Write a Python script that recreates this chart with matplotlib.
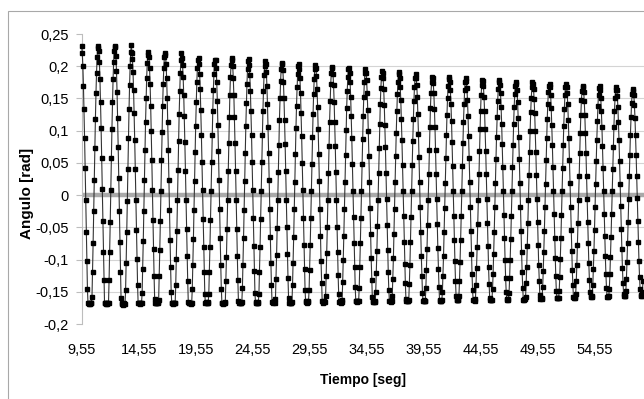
import numpy as np
import matplotlib
matplotlib.use('Agg')

import matplotlib.pyplot as plt
from matplotlib.patches import Rectangle

# sampling of the logger: first sample and step, in seconds
t0 = 9.55
dt = 0.05

# angle readings [rad], one row per swing
angulo = [
    0.231, 0.220, 0.200, 0.170, 0.133, 0.089, 0.042, -0.008, -0.057, -0.103, -0.145, -0.168, -0.169, -0.168, -0.168, -0.169, -0.168, -0.167, -0.158, -0.119, -0.074, -0.025, 0.024, 0.073, 0.118, 0.158, 0.190, 0.214, 0.228, 0.232,
    0.224, 0.207, 0.180, 0.145, 0.104, 0.058, 0.009, -0.040, -0.088, -0.131, -0.167, -0.168, -0.169, -0.168, -0.168, -0.169, -0.168, -0.167, -0.132, -0.089, -0.042, 0.008, 0.057, 0.103, 0.145, 0.180, 0.206, 0.224, 0.231,
    0.230, 0.216, 0.193, 0.160, 0.120, 0.074, 0.026, -0.024, -0.073, -0.119, -0.159, -0.169, -0.168, -0.169, -0.170, -0.169, -0.168, -0.169, -0.147, -0.105, -0.058, -0.009, 0.041, 0.089, 0.133, 0.171, 0.201, 0.222, 0.233,
    0.221, 0.211, 0.191, 0.163, 0.127, 0.085, 0.040, -0.007, -0.054, -0.099, -0.139, -0.168, -0.167, -0.168, -0.169, -0.168, -0.168, -0.167, -0.152, -0.114, -0.071, -0.024, 0.023, 0.070, 0.113, 0.151, 0.182, 0.205, 0.218, 0.222,
    0.214, 0.198, 0.172, 0.139, 0.099, 0.055, 0.008, -0.039, -0.084, -0.126, -0.161, -0.167, -0.168, -0.167, -0.168, -0.167, -0.166, -0.162, -0.126, -0.085, -0.040, 0.007, 0.054, 0.098, 0.138, 0.172, 0.197, 0.214, 0.221,
    0.218, 0.204, 0.182, 0.151, 0.113, 0.070, 0.024, -0.023, -0.069, -0.112, -0.150, -0.168, -0.167, -0.168, -0.169, -0.168, -0.167, -0.168, -0.139, -0.099, -0.055, -0.008, 0.039, 0.084, 0.126, 0.161, 0.190, 0.210, 0.220,
    0.212, 0.202, 0.183, 0.156, 0.122, 0.082, 0.038, -0.007, -0.052, -0.095, -0.133, -0.166, -0.168, -0.167, -0.168, -0.169, -0.168, -0.167, -0.146, -0.109, -0.068, -0.023, 0.022, 0.067, 0.108, 0.145, 0.175, 0.197, 0.210, 0.213,
    0.204, 0.188, 0.164, 0.132, 0.094, 0.052, 0.008, -0.037, -0.080, -0.119, -0.153, -0.167, -0.166, -0.167, -0.168, -0.167, -0.166, -0.154, -0.120, -0.081, -0.038, 0.007, 0.051, 0.094, 0.131, 0.163, 0.188, 0.203, 0.210,
    0.210, 0.197, 0.175, 0.146, 0.109, 0.068, 0.023, -0.022, -0.067, -0.108, -0.145, -0.167, -0.168, -0.169, -0.168, -0.167, -0.168, -0.166, -0.134, -0.096, -0.053, -0.008, 0.037, 0.081, 0.121, 0.156, 0.183, 0.202, 0.212,
    0.210, 0.200, 0.182, 0.155, 0.121, 0.081, 0.038, -0.007, -0.052, -0.094, -0.132, -0.164, -0.167, -0.166, -0.167, -0.168, -0.167, -0.166, -0.144, -0.108, -0.067, -0.023, 0.022, 0.066, 0.107, 0.143, 0.173, 0.195, 0.208, 0.211,
    0.202, 0.186, 0.162, 0.131, 0.094, 0.052, 0.008, -0.036, -0.079, -0.118, -0.152, -0.167, -0.166, -0.167, -0.168, -0.167, -0.166, -0.153, -0.119, -0.080, -0.037, 0.007, 0.051, 0.093, 0.130, 0.162, 0.186, 0.201, 0.208,
    0.203, 0.191, 0.170, 0.141, 0.106, 0.066, 0.023, -0.022, -0.065, -0.105, -0.140, -0.166, -0.167, -0.166, -0.165, -0.166, -0.167, -0.161, -0.130, -0.093, -0.051, -0.008, 0.036, 0.078, 0.117, 0.150, 0.177, 0.195, 0.205,
    0.203, 0.194, 0.176, 0.150, 0.117, 0.079, 0.037, -0.007, -0.050, -0.091, -0.128, -0.159, -0.167, -0.166, -0.167, -0.168, -0.167, -0.166, -0.139, -0.105, -0.065, -0.022, 0.021, 0.064, 0.104, 0.139, 0.167, 0.188, 0.201, 0.204,
    0.196, 0.181, 0.158, 0.127, 0.091, 0.050, 0.008, -0.035, -0.077, -0.115, -0.148, -0.166, -0.165, -0.166, -0.167, -0.166, -0.165, -0.148, -0.116, -0.078, -0.036, 0.007, 0.049, 0.090, 0.126, 0.157, 0.180, 0.196, 0.202,
    0.197, 0.185, 0.165, 0.137, 0.102, 0.064, 0.022, -0.021, -0.063, -0.102, -0.136, -0.164, -0.166, -0.167, -0.166, -0.165, -0.166, -0.156, -0.126, -0.090, -0.050, -0.008, 0.035, 0.076, 0.114, 0.146, 0.172, 0.190, 0.199,
    0.197, 0.188, 0.171, 0.145, 0.113, 0.076, 0.036, -0.007, -0.049, -0.088, -0.124, -0.154, -0.166, -0.165, -0.166, -0.167, -0.166, -0.163, -0.135, -0.101, -0.063, -0.022, 0.021, 0.062, 0.101, 0.135, 0.162, 0.183, 0.195, 0.198,
    0.190, 0.175, 0.153, 0.123, 0.088, 0.049, 0.007, -0.034, -0.075, -0.111, -0.143, -0.165, -0.164, -0.165, -0.166, -0.165, -0.165, -0.144, -0.112, -0.075, -0.035, 0.007, 0.048, 0.087, 0.123, 0.152, 0.175, 0.190, 0.196,
    0.190, 0.178, 0.159, 0.132, 0.099, 0.061, 0.021, -0.020, -0.061, -0.098, -0.131, -0.158, -0.166, -0.165, -0.166, -0.165, -0.166, -0.151, -0.121, -0.087, -0.048, -0.007, 0.034, 0.073, 0.110, 0.141, 0.166, 0.183, 0.192,
    0.190, 0.181, 0.164, 0.140, 0.109, 0.074, 0.034, -0.006, -0.047, -0.085, -0.120, -0.148, -0.165, -0.164, -0.165, -0.166, -0.165, -0.157, -0.130, -0.098, -0.061, -0.021, 0.020, 0.060, 0.097, 0.130, 0.157, 0.176, 0.188, 0.191,
    0.182, 0.168, 0.147, 0.118, 0.085, 0.047, 0.007, -0.033, -0.072, -0.107, -0.137, -0.161, -0.165, -0.164, -0.165, -0.165, -0.162, -0.138, -0.108, -0.072, -0.034, 0.006, 0.046, 0.084, 0.118, 0.146, 0.168, 0.182, 0.188,
    0.182, 0.171, 0.152, 0.126, 0.095, 0.059, 0.020, -0.019, -0.058, -0.094, -0.126, -0.152, -0.164, -0.163, -0.164, -0.165, -0.164, -0.144, -0.116, -0.083, -0.046, -0.007, 0.032, 0.070, 0.105, 0.135, 0.159, 0.175, 0.184,
    0.182, 0.174, 0.158, 0.134, 0.105, 0.070, 0.033, -0.006, -0.045, -0.082, -0.115, -0.142, -0.163, -0.164, -0.165, -0.164, -0.163, -0.151, -0.125, -0.094, -0.058, -0.020, 0.019, 0.057, 0.093, 0.124, 0.150, 0.169, 0.180, 0.183,
    0.176, 0.163, 0.142, 0.115, 0.082, 0.045, 0.007, -0.032, -0.069, -0.103, -0.133, -0.156, -0.163, -0.162, -0.163, -0.163, -0.157, -0.134, -0.104, -0.070, -0.033, 0.006, 0.045, 0.081, 0.114, 0.141, 0.163, 0.176, 0.182,
    0.177, 0.166, 0.148, 0.123, 0.092, 0.057, 0.020, -0.019, -0.056, -0.091, -0.122, -0.148, -0.163, -0.162, -0.163, -0.164, -0.161, -0.140, -0.113, -0.081, -0.045, -0.007, 0.032, 0.068, 0.102, 0.131, 0.155, 0.171, 0.179,
    0.177, 0.169, 0.153, 0.131, 0.102, 0.069, 0.032, -0.006, -0.044, -0.079, -0.111, -0.138, -0.159, -0.163, -0.162, -0.163, -0.162, -0.146, -0.122, -0.091, -0.057, -0.019, 0.019, 0.056, 0.090, 0.121, 0.146, 0.164, 0.175, 0.178,
    0.171, 0.158, 0.137, 0.111, 0.079, 0.044, 0.007, -0.031, -0.067, -0.100, -0.129, -0.151, -0.162, -0.161, -0.162, -0.161, -0.152, -0.129, -0.101, -0.068, -0.032, 0.006, 0.043, 0.078, 0.110, 0.137, 0.157, 0.170, 0.176,
    0.173, 0.163, 0.145, 0.120, 0.090, 0.056, 0.019, -0.018, -0.055, -0.089, -0.120, -0.144, -0.162, -0.161, -0.162, -0.161, -0.158, -0.137, -0.111, -0.079, -0.044, -0.007, 0.031, 0.067, 0.100, 0.129, 0.151, 0.167, 0.175,
    0.172, 0.164, 0.149, 0.127, 0.099, 0.067, 0.031, -0.006, -0.042, -0.077, -0.108, -0.134, -0.155, -0.161, -0.160, -0.161, -0.160, -0.142, -0.118, -0.089, -0.055, -0.019, 0.018, 0.054, 0.088, 0.118, 0.142, 0.160, 0.170, 0.173,
    0.168, 0.155, 0.135, 0.109, 0.078, 0.043, 0.007, -0.030, -0.066, -0.098, -0.126, -0.149, -0.160, -0.159, -0.160, -0.160, -0.149, -0.127, -0.099, -0.067, -0.031, 0.006, 0.042, 0.077, 0.108, 0.134, 0.155, 0.168, 0.173,
    0.168, 0.158, 0.141, 0.117, 0.088, 0.054, 0.019, -0.018, -0.054, -0.087, -0.116, -0.140, -0.158, -0.159, -0.158, -0.159, -0.153, -0.133, -0.108, -0.077, -0.043, -0.007, 0.030, 0.065, 0.097, 0.125, 0.147, 0.162, 0.170,
    0.168, 0.160, 0.146, 0.124, 0.097, 0.065, 0.030, -0.006, -0.041, -0.075, -0.106, -0.131, -0.151, -0.158, -0.157, -0.158, -0.156, -0.139, -0.115, -0.087, -0.054, -0.018, 0.018, 0.053, 0.086, 0.115, 0.139, 0.156, 0.166, 0.169,
    0.163, 0.150, 0.131, 0.106, 0.076, 0.042, 0.006, -0.029, -0.064, -0.095, -0.123, -0.144, -0.158, -0.157, -0.158, -0.157, -0.145, -0.123, -0.096, -0.065, -0.030, 0.006, 0.041, 0.075, 0.105, 0.131, 0.150, 0.163, 0.168,
    0.163, 0.154, 0.137, 0.113, 0.085, 0.053, 0.018, -0.017, -0.052, -0.084, -0.113, -0.136, -0.153, -0.157, -0.156, -0.157, -0.149, -0.130, -0.104, -0.075, -0.041, -0.006, 0.029, 0.063, 0.094, 0.121, 0.143, 0.157, 0.165,
    0.162, 0.155, 0.140, 0.120, 0.093, 0.063, 0.029, -0.005, -0.040, -0.073, -0.102, -0.127, -0.146, -0.156, -0.155, -0.156, -0.151, -0.134,
]

x_ticks = [9.55, 14.55, 19.55, 24.55, 29.55, 34.55, 39.55, 44.55, 49.55, 54.55]
x_labels = ["9,55", "14,55", "19,55", "24,55", "29,55", "34,55", "39,55", "44,55", "49,55", "54,55"]
y_ticks = [0.25, 0.2, 0.15, 0.1, 0.05, 0, -0.05, -0.1, -0.15, -0.2]
y_labels = ["0,25", "0,2", "0,15", "0,1", "0,05", "0", "-0,05", "-0,1", "-0,15", "-0,2"]
grid_levels = [0.2, 0.15, 0.1, 0.05, -0.05, -0.1, -0.15]


def main():
    plt.rcParams['font.family'] = ['Liberation Sans', 'DejaVu Sans']

    tiempo = t0 + dt * np.arange(len(angulo))

    W, H = 644, 399
    fig = plt.figure(figsize=(W / 100, H / 100), dpi=100)

    # outer chart border (only top and left edges fall inside the picture)
    fig.add_artist(Rectangle((8 / W, -0.5), 2, 0.5 + 1 - 11 / H,
                             transform=fig.transFigure, fill=False,
                             edgecolor='#a8a8a8', lw=0.8))

    ax = fig.add_axes([81.5 / W, 1 - 324 / H, 1 - 81.5 / W, 290 / H])
    ax.set_xlim(t0 - 0.02, t0 + (W - 81.5) / 57 * 5)
    ax.set_ylim(-0.2, 0.25)

    for g in grid_levels:
        ax.axhline(g, color='#d4d4d4', lw=0.8, zorder=1)
    ax.axhline(0, color='#a9a9a9', lw=3.2, zorder=1.5)

    ax.plot(tiempo, angulo, color='#333333', lw=0.8, marker='s', ms=3.3,
            mfc='black', mec='black', zorder=3, clip_on=False)

    for side in ['top', 'right', 'bottom']:
        ax.spines[side].set_visible(False)
    ax.spines['left'].set_color('#bdbdbd')
    ax.spines['left'].set_linewidth(0.8)

    ax.set_yticks(y_ticks)
    ax.set_yticklabels(y_labels)
    ax.set_xticks(x_ticks)
    ax.set_xticklabels(x_labels)
    ax.tick_params(axis='y', direction='out', length=4, width=0.8,
                   color='#bdbdbd', labelsize=10.5, pad=5)
    ax.tick_params(axis='x', length=0, labelsize=10.5, pad=13.5)

    fig.text(27 / W, 1 - 193 / H, "Angulo [rad]", rotation=90, ha='center',
             va='center', fontsize=11, fontweight='bold')
    fig.text(363 / W, 1 - 380 / H, "Tiempo [seg]", ha='center', va='center',
             fontsize=10, fontweight='bold')

    fig.savefig("out.png", dpi=100)


if __name__ == "__main__":
    main()
